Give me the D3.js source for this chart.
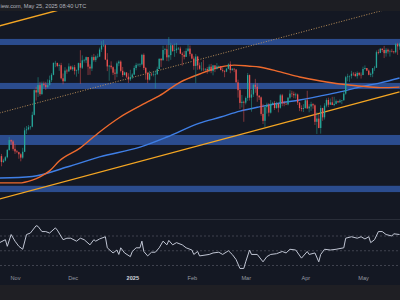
<!DOCTYPE html>
<html><head><meta charset="utf-8">
<script src="https://cdn.jsdelivr.net/npm/d3@7"></script>
<style>html,body{margin:0;padding:0;background:#141823;overflow:hidden}svg{display:block}</style>
</head><body><svg id="c" width="400" height="300"></svg>
<script>
// BTC/USD daily, values in thousands of USD
const startDate = "2024-10-24";
const ohlc = [
[66.7,68.8,66.6,68.2],[68.2,68.8,65.5,66.6],[66.6,67.5,66.4,67.0],[67.0,68.2,66.8,67.9],[67.9,70.2,67.6,69.9],
[69.9,73.6,69.7,72.7],[72.7,72.9,71.4,72.3],[72.3,72.7,69.7,70.2],[70.2,71.6,68.8,69.5],[69.5,69.9,69.0,69.3],
[69.3,69.4,67.5,68.7],[68.7,69.0,66.8,67.8],[67.8,70.5,67.5,69.4],[69.4,76.4,69.3,75.6],[75.6,76.9,74.5,75.9],
[75.9,77.2,75.6,76.5],[76.5,76.9,75.8,76.7],[76.7,81.4,76.5,80.4],[80.4,89.0,80.2,88.7],[88.7,89.9,85.1,87.9],
[87.9,93.4,86.3,90.5],[90.5,91.7,86.7,87.3],[87.3,91.8,87.1,91.0],[91.0,91.8,90.1,90.6],[90.6,91.7,88.8,89.8],
[89.8,92.6,89.4,90.5],[90.5,94.0,90.4,92.3],[92.3,94.9,91.6,94.3],[94.3,99.0,94.1,98.9],[98.9,99.7,97.2,98.9],
[98.9,98.9,97.2,97.7],[97.7,98.6,95.8,98.0],[98.0,98.9,92.6,93.0],[93.0,94.8,90.8,91.9],[91.9,97.2,91.8,95.9],
[95.9,96.6,94.7,95.6],[95.6,98.7,95.4,97.5],[97.5,97.8,96.1,96.4],[96.4,97.9,95.8,97.2],[97.2,98.1,94.4,95.8],
[95.8,96.3,93.6,96.0],[96.0,99.0,94.7,98.8],[98.8,104.0,91.0,97.0],[97.0,101.9,96.5,99.9],[99.9,100.5,99.0,99.9],
[99.9,101.4,98.8,101.2],[101.2,101.2,94.2,97.4],[97.4,98.3,94.3,96.7],[96.7,101.9,95.7,101.2],[101.2,102.5,99.4,100.0],
[100.0,101.9,99.2,101.4],[101.4,102.6,100.7,101.4],[101.4,105.1,101.3,104.3],[104.3,107.8,103.3,106.0],[106.0,108.3,105.3,106.1],
[106.1,106.5,100.0,100.2],[100.2,102.8,95.7,97.5],[97.5,98.0,92.1,97.8],[97.8,99.5,96.4,97.2],[97.2,97.5,94.2,95.1],
[95.1,96.4,92.4,94.7],[94.7,99.4,93.4,98.7],[98.7,99.9,97.6,99.4],[99.4,99.9,95.2,95.8],[95.8,97.3,93.5,94.2],
[94.2,95.5,94.1,95.2],[95.2,95.2,93.1,93.6],[93.6,94.9,91.3,92.6],[92.6,96.2,92.0,93.4],[93.4,94.9,92.7,94.4],
[94.4,97.8,94.2,96.9],[96.9,98.9,96.0,98.1],[98.1,98.7,97.5,98.2],[98.2,98.8,97.3,98.3],[98.3,102.5,97.9,102.1],
[102.1,102.7,96.1,96.9],[96.9,97.3,92.5,95.0],[95.0,95.4,91.2,92.5],[92.5,95.8,92.2,94.7],[94.7,94.9,93.8,94.5],
[94.5,95.4,93.7,94.5],[94.5,95.8,89.3,94.5],[94.5,97.4,94.3,96.5],[96.5,100.7,96.5,100.5],[100.5,100.8,97.3,99.9],
[99.9,105.9,99.9,104.1],[104.1,104.9,102.3,104.4],[104.4,106.3,99.6,101.1],[101.1,109.6,99.5,102.0],[102.0,107.1,100.1,106.1],
[106.1,106.3,103.3,103.7],[103.7,106.8,101.3,104.0],[104.0,107.1,102.8,104.7],[104.7,105.3,104.1,104.7],[104.7,105.5,102.5,102.6],
[102.6,103.2,97.8,102.1],[102.1,103.7,100.3,101.3],[101.3,104.8,101.3,103.7],[103.7,106.4,103.3,104.7],[104.7,106.0,101.5,102.4],
[102.4,102.8,100.3,100.6],[100.6,101.5,96.2,97.7],[97.7,102.5,91.2,101.4],[101.4,101.7,96.2,97.9],[97.9,99.0,96.2,96.6],
[96.6,99.2,95.7,96.6],[96.6,100.1,95.7,96.5],[96.5,96.9,95.7,96.5],[96.5,97.3,94.7,96.1],[96.1,98.3,95.3,97.4],
[97.4,98.5,94.9,95.7],[95.7,98.1,94.1,97.9],[97.9,98.0,95.3,96.6],[96.6,98.8,96.3,97.5],[97.5,97.9,97.3,97.6],
[97.6,97.7,96.0,96.1],[96.1,97.0,95.2,95.8],[95.8,96.0,93.4,95.5],[95.5,96.9,95.3,96.6],[96.6,98.7,96.4,98.3],
[98.3,99.5,94.9,96.1],[96.1,96.9,95.8,96.6],[96.6,96.8,95.3,96.3],[96.3,96.5,91.4,91.5],[91.5,92.5,86.1,88.7],
[88.7,89.3,82.3,84.3],[84.3,87.0,82.8,84.7],[84.7,85.1,78.2,84.4],[84.4,86.5,83.8,86.0],[86.0,95.0,85.0,94.2],
[94.2,94.4,85.1,86.1],[86.1,88.9,81.4,87.2],[87.2,91.0,86.3,90.6],[90.6,92.8,87.8,89.9],[89.9,91.2,84.7,86.8],
[86.8,86.9,85.3,86.2],[86.2,86.5,80.1,80.7],[80.7,84.0,77.5,78.5],[78.5,83.5,76.6,82.9],[82.9,84.4,80.8,83.7],
[83.7,84.3,79.9,81.1],[81.1,85.3,80.8,84.0],[84.0,84.7,83.6,84.3],[84.3,85.0,82.0,82.6],[82.6,84.7,82.4,84.1],
[84.1,84.1,81.2,82.7],[82.7,87.4,82.4,86.9],[86.9,87.4,83.2,84.2],[84.2,85.0,83.2,84.0],[84.0,84.5,83.7,83.8],
[83.8,86.2,83.5,86.1],[86.1,88.8,85.6,87.5],[87.5,88.5,86.3,87.4],[87.4,88.2,85.9,86.9],[86.9,87.8,85.8,87.2],
[87.2,87.5,83.6,84.4],[84.4,84.6,81.6,82.6],[82.6,83.5,81.5,82.3],[82.3,83.9,81.3,82.6],[82.6,85.5,82.4,85.2],
[85.2,88.5,82.3,82.5],[82.5,83.9,81.2,83.1],[83.1,84.7,81.7,83.9],[83.9,84.2,82.4,83.5],[83.5,83.8,77.2,78.2],
[78.2,81.2,74.5,79.2],[79.2,80.8,76.2,76.3],[76.3,83.5,74.6,82.6],[82.6,82.7,78.5,79.6],[79.6,84.2,78.9,83.4],
[83.4,85.9,82.8,85.3],[85.3,86.1,82.9,83.7],[83.7,85.8,83.7,84.5],[84.5,86.4,83.6,83.6],[83.6,86.4,83.2,84.0],
[84.0,85.5,83.8,84.9],[84.9,85.1,84.3,84.5],[84.5,85.6,84.4,85.1],[85.1,85.3,83.9,85.2],[85.2,88.5,85.1,87.5],
[87.5,93.9,87.1,93.4],[93.4,94.7,91.9,93.7],[93.7,94.0,91.7,93.9],[93.9,95.8,92.9,94.7],[94.7,95.3,93.9,94.6],
[94.6,95.3,93.6,93.8],[93.8,95.6,92.9,95.0],[95.0,95.4,93.8,94.3],[94.3,95.2,92.9,94.2],[94.2,97.4,94.2,96.5],
[96.5,97.9,96.3,96.9],[96.9,96.9,95.7,95.9],[95.9,96.3,94.1,94.3],[94.3,95.2,93.5,94.7],[94.7,96.9,93.4,96.8],
[96.8,97.7,95.8,97.0],[97.0,103.9,96.9,103.2],[103.2,104.3,102.3,102.9],[102.9,104.9,102.8,104.6],[104.6,104.9,103.3,104.1],
[104.1,105.8,100.8,102.8],[102.8,104.9,101.4,104.2],[104.2,104.7,102.6,103.5],[103.5,104.2,101.4,103.7],[103.7,104.6,103.1,103.5],
[103.5,103.7,102.6,103.2],[103.2,107.1,102.7,106.5],[106.5,107.1,102.1,105.6],[105.6,107.2,104.2,106.8]
];
// moving averages read at sample days (day index from startDate)
const ma100Days = [0,10,17,21,26,31,42,52,62,76,83,94,104,115,122,130,135,146,156,167,177,187,198,208];
const ma100 = [61.3,61.3,62.0,62.8,64.3,66.9,70.5,75.1,79.4,84.3,86.7,91.6,94.6,97.3,98.0,97.6,97.3,95.4,93.5,92.0,90.9,90.2,89.6,89.8];
const ma200Days = [0,17,35,52,73,87,104,115,125,135,146,156,167,177,187,198,208];
const ma200 = [62.5,62.9,65.3,68.0,70.7,73.6,77.8,79.7,81.6,83.0,84.3,85.3,86.7,88.1,89.8,91.3,93.1];
// horizontal zones [low, high]
const zoneLows = [106.2,89.1,71.3,59.1];
const zoneHighs = [108.8,91.3,74.2,60.6];
// ascending channel
const channelDates = ["2024-10-24","2025-05-20"];
const channelLow = [57.5,88.1];
const channelMid = [81.0,124.1];
const channelHigh = [114.6,175.5];
// RSI(14)
const rsiDays = [0,3,4,6,8,10,12,14,16,19,20,22,24,26,29,30,33,35,37,40,42,44,47,49,50,52,55,56,59,61,62,63,65,68,69,71,73,74,75,77,79,81,83,85,87,88,90,92,95,97,100,101,103,104,109,111,114,116,119,121,123,125,127,128,130,131,134,137,139,141,144,147,149,151,154,157,160,161,164,166,167,169,172,175,179,180,183,186,188,190,192,193,195,197,199,201,204,205,208];
const rsiValues = [61,65,56,72,63,56,52,72,74,84,83,76,76,74,81,78,65,67,67,63,67,65,58,65,63,66,69,54,47,51,45,54,47,42,49,54,54,63,49,43,48,48,54,63,58,64,58,61,58,54,51,45,49,43,45,47,48,45,50,45,38,26,26,35,51,45,45,35,42,45,46,49,47,52,51,40,49,45,47,35,45,52,51,52,54,67,69,67,69,66,69,61,65,76,76,72,70,73,72];
const rsiLevels = [70,50,30];
const monthTicks = ["2024-11-01","2024-12-01","2025-01-01","2025-02-01","2025-03-01","2025-04-01","2025-05-01"];
const monthLabels = ["Nov","Dec","2025","Feb","Mar","Apr","May"];
const headerText = "iew.com, May 25, 2025 08:40 UTC";

const parse = d3.utcParse("%Y-%m-%d");
const t0 = parse(startDate);
const dayDate = i => new Date(t0.getTime() + i*86400000);

const svg = d3.select("#c");
const W = 400, H = 300;
const x = d3.scaleUtc().domain([parse("2024-11-01"), parse("2025-05-01")]).range([15, 363]);
const y = d3.scaleLog().domain([53.3, 121.6]).range([218, 11]);
const yr = d3.scaleLinear().domain([30, 70]).range([265.5, 236]);

svg.append("rect").attr("width", W).attr("height", H).attr("fill", "#141823");

const defs = svg.append("defs");
defs.append("clipPath").attr("id", "mainClip").append("rect").attr("x", 0).attr("y", 11).attr("width", W).attr("height", 208);
defs.append("clipPath").attr("id", "rsiClip").append("rect").attr("x", 0).attr("y", 220).attr("width", W).attr("height", 64);

const main = svg.append("g").attr("clip-path", "url(#mainClip)");

// zones
main.selectAll("rect.zone").data(zoneLows).join("rect").attr("class", "zone")
  .attr("x", 0).attr("width", W)
  .attr("y", (d, i) => y(zoneHighs[i]))
  .attr("height", (d, i) => y(zoneLows[i]) - y(zoneHighs[i]))
  .attr("fill", "#2b4c8e");

// channel
const cd = channelDates.map(parse);
const chLine = vals => d3.line().x((d, i) => x(cd[i])).y(d => y(d))(vals);
main.append("path").attr("d", chLine(channelMid)).attr("fill", "none")
  .attr("stroke", "#c99a5e").attr("stroke-width", 0.9).attr("stroke-dasharray", "1,1.6");
main.append("path").attr("d", chLine(channelLow)).attr("fill", "none").attr("stroke", "#f4a623").attr("stroke-width", 1.4);
main.append("path").attr("d", chLine(channelHigh)).attr("fill", "none").attr("stroke", "#f4a623").attr("stroke-width", 1.4);

// MAs
const maLine = (days, vals) => d3.line().curve(d3.curveMonotoneX)
  .x((d, i) => x(dayDate(days[i]))).y(d => y(d))(vals);
main.append("path").attr("d", maLine(ma200Days, ma200)).attr("fill", "none").attr("stroke", "#3f7fe6").attr("stroke-width", 1.4);
main.append("path").attr("d", maLine(ma100Days, ma100)).attr("fill", "none").attr("stroke", "#ee6a2d").attr("stroke-width", 1.4);

// candles
const up = "#26a69a", dn = "#ef5350";
const cg = main.append("g");
cg.selectAll("line").data(ohlc).join("line")
  .attr("x1", (d, i) => x(dayDate(i))).attr("x2", (d, i) => x(dayDate(i)))
  .attr("y1", d => y(d[1])).attr("y2", d => y(d[2]))
  .attr("stroke", d => d[3] >= d[0] ? up : dn).attr("stroke-width", 0.5);
cg.selectAll("rect").data(ohlc).join("rect")
  .attr("x", (d, i) => x(dayDate(i)) - 0.65).attr("width", 1.3)
  .attr("y", d => y(Math.max(d[0], d[3])))
  .attr("height", d => Math.max(0.5, Math.abs(y(d[0]) - y(d[3]))))
  .attr("fill", d => d[3] >= d[0] ? up : dn);

// header
svg.append("rect").attr("width", W).attr("height", 11).attr("fill", "#1d1e23");
svg.append("text").attr("x", 0.5).attr("y", 7.6)
  .attr("font-family", "Liberation Sans, Arial, sans-serif").attr("font-size", 5.6)
  .attr("fill", "#b2b5be").text(headerText);

// RSI pane
svg.append("line").attr("x1", 0).attr("x2", W).attr("y1", 219.5).attr("y2", 219.5).attr("stroke", "#2a2e39").attr("stroke-width", 1);
const rg = svg.append("g").attr("clip-path", "url(#rsiClip)");
rg.selectAll("line.lvl").data(rsiLevels).join("line").attr("class", "lvl")
  .attr("x1", 0).attr("x2", W).attr("y1", d => yr(d)).attr("y2", d => yr(d))
  .attr("stroke", "#5d606b").attr("stroke-width", 0.6).attr("stroke-dasharray", "2,2");
rg.append("path").attr("d", d3.line().x((d, i) => x(dayDate(rsiDays[i]))).y(d => yr(d))(rsiValues))
  .attr("fill", "none").attr("stroke", "#c0c5d3").attr("stroke-width", 1);

// time axis
const axis = d3.axisBottom(x).tickValues(monthTicks.map(parse))
  .tickFormat((d, i) => monthLabels[i]).tickSize(0).tickPadding(0);
const ax = svg.append("g").attr("transform", "translate(0,276)").call(axis);
ax.select(".domain").remove();
ax.selectAll("text").attr("font-family", "Liberation Sans, Arial, sans-serif").attr("font-size", 5.6)
  .attr("fill", (d, i) => monthLabels[i] === "2025" ? "#d1d4dc" : "#9598a1")
  .attr("font-weight", (d, i) => monthLabels[i] === "2025" ? "bold" : "normal");

// bottom strip
svg.append("rect").attr("y", 285).attr("width", W).attr("height", 15).attr("fill", "#1f1f24");
</script></body></html>
